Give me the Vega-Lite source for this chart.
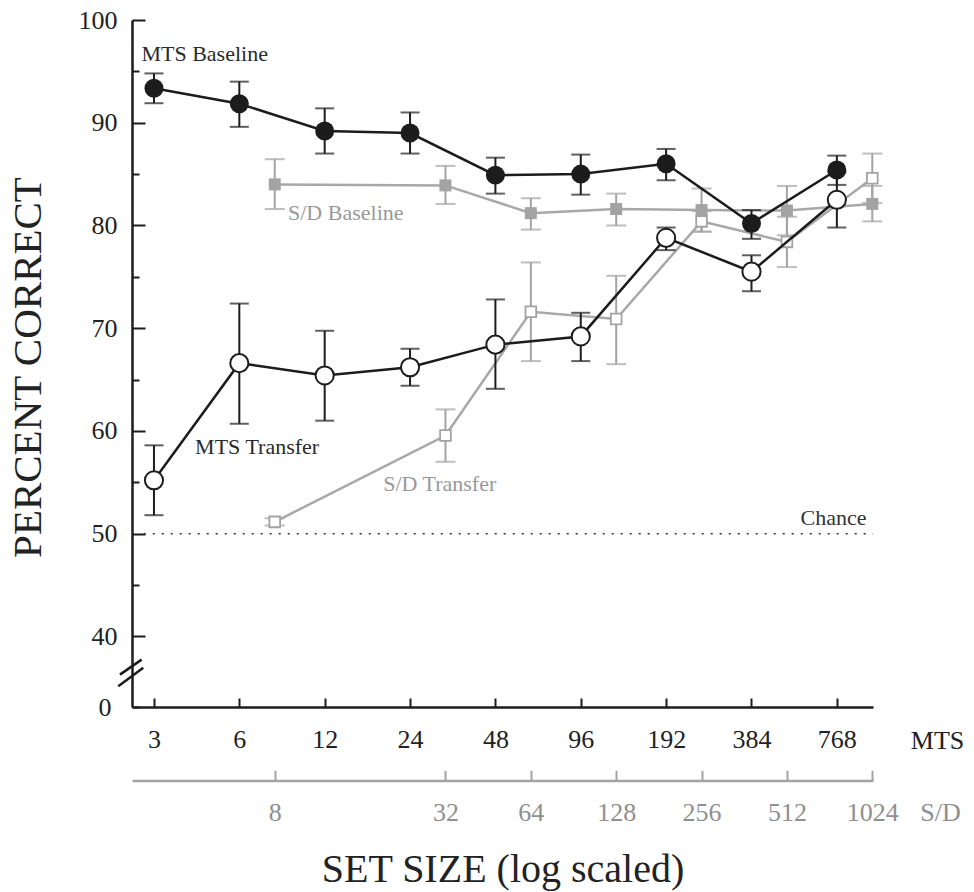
{
  "$schema": "https://vega.github.io/schema/vega-lite/v6.json",
  "width": 741,
  "height": 687,
  "autosize": "none",
  "padding": {"left": 132, "top": 20, "right": 101, "bottom": 185},
  "background": "white",
  "config": {"view": {"stroke": null}, "axis": {"grid": false}, "font": "Liberation Serif"},
  "datasets": {
    "d": [
      {"task": "MTS", "cond": "Baseline", "size": 3, "pct": 93.35, "lo": 91.9, "hi": 94.8},
      {"task": "MTS", "cond": "Baseline", "size": 6, "pct": 91.85, "lo": 89.6, "hi": 94.0},
      {"task": "MTS", "cond": "Baseline", "size": 12, "pct": 89.2, "lo": 87.0, "hi": 91.4},
      {"task": "MTS", "cond": "Baseline", "size": 24, "pct": 89.0, "lo": 87.0, "hi": 91.0},
      {"task": "MTS", "cond": "Baseline", "size": 48, "pct": 84.9, "lo": 83.1, "hi": 86.6},
      {"task": "MTS", "cond": "Baseline", "size": 96, "pct": 85.0, "lo": 83.0, "hi": 86.9},
      {"task": "MTS", "cond": "Baseline", "size": 192, "pct": 86.0, "lo": 84.4, "hi": 87.45},
      {"task": "MTS", "cond": "Baseline", "size": 384, "pct": 80.2, "lo": 78.7, "hi": 81.5},
      {"task": "MTS", "cond": "Baseline", "size": 768, "pct": 85.4, "lo": 83.95, "hi": 86.8},
      {"task": "MTS", "cond": "Transfer", "size": 3, "pct": 55.2, "lo": 51.8, "hi": 58.6},
      {"task": "MTS", "cond": "Transfer", "size": 6, "pct": 66.6, "lo": 60.7, "hi": 72.4},
      {"task": "MTS", "cond": "Transfer", "size": 12, "pct": 65.4, "lo": 61.0, "hi": 69.75},
      {"task": "MTS", "cond": "Transfer", "size": 24, "pct": 66.2, "lo": 64.4, "hi": 68.0},
      {"task": "MTS", "cond": "Transfer", "size": 48, "pct": 68.4, "lo": 64.1, "hi": 72.8},
      {"task": "MTS", "cond": "Transfer", "size": 96, "pct": 69.2, "lo": 66.8, "hi": 71.5},
      {"task": "MTS", "cond": "Transfer", "size": 192, "pct": 78.8, "lo": 77.6, "hi": 79.8},
      {"task": "MTS", "cond": "Transfer", "size": 384, "pct": 75.5, "lo": 73.6, "hi": 77.1},
      {"task": "MTS", "cond": "Transfer", "size": 768, "pct": 82.5, "lo": 79.8, "hi": 85.2},
      {"task": "S/D", "cond": "Baseline", "size": 8, "pct": 84.0, "lo": 81.6, "hi": 86.45},
      {"task": "S/D", "cond": "Baseline", "size": 32, "pct": 83.9, "lo": 82.1, "hi": 85.8},
      {"task": "S/D", "cond": "Baseline", "size": 64, "pct": 81.2, "lo": 79.6, "hi": 82.65},
      {"task": "S/D", "cond": "Baseline", "size": 128, "pct": 81.6, "lo": 80.0, "hi": 83.1},
      {"task": "S/D", "cond": "Baseline", "size": 256, "pct": 81.5, "lo": 79.4, "hi": 83.6},
      {"task": "S/D", "cond": "Baseline", "size": 512, "pct": 81.45, "lo": 79.05, "hi": 83.85},
      {"task": "S/D", "cond": "Baseline", "size": 1024, "pct": 82.1, "lo": 80.4, "hi": 83.85},
      {"task": "S/D", "cond": "Transfer", "size": 8, "pct": 51.15, "lo": 50.8, "hi": 51.5},
      {"task": "S/D", "cond": "Transfer", "size": 32, "pct": 59.55, "lo": 57.0, "hi": 62.1},
      {"task": "S/D", "cond": "Transfer", "size": 64, "pct": 71.6, "lo": 66.8, "hi": 76.4},
      {"task": "S/D", "cond": "Transfer", "size": 128, "pct": 70.9, "lo": 66.5, "hi": 75.1},
      {"task": "S/D", "cond": "Transfer", "size": 256, "pct": 80.4, "lo": 79.4, "hi": 81.4},
      {"task": "S/D", "cond": "Transfer", "size": 512, "pct": 78.4, "lo": 75.95, "hi": 80.85},
      {"task": "S/D", "cond": "Transfer", "size": 1024, "pct": 84.6, "lo": 82.2, "hi": 87.0}
    ],
    "ann": [
      {"label": "MTS Baseline", "task": "MTS", "size": 2.71, "pct": 96.66},
      {"label": "S/D Baseline", "task": "S/D", "size": 8.91, "pct": 81.25},
      {"label": "MTS Transfer", "task": "MTS", "size": 4.19, "pct": 58.4},
      {"label": "S/D Transfer", "task": "S/D", "size": 19.3, "pct": 54.8}
    ],
    "chance": [{"label": "Chance", "size": 977, "pct": 51.5}],
    "chanceline": [{"size": 2.76, "size2": 1030, "pct": 50}],
    "brk": [
      {"size": 2.276, "size2": 2.714, "pct": 36.28, "pct2": 37.74},
      {"size": 2.245, "size2": 2.751, "pct": 35.15, "pct2": 36.94}
    ]
  },
  "data": {"name": "d"},
  "resolve": {"axis": {"x": "independent", "y": "independent"}},
  "layer": [
    {
      "data": {"name": "chanceline"},
      "mark": {"type": "rule", "strokeDash": [2, 7], "color": "#333333", "strokeWidth": 1.5},
      "encoding": {
        "x": {"field": "size", "type": "quantitative", "scale": {"type": "log", "domain": [2.51, 1030], "nice": false}, "axis": null},
        "x2": {"field": "size2"},
        "y": {"field": "pct", "type": "quantitative", "scale": {"domain": [33.13, 100], "zero": false, "nice": false},
          "axis": {
            "orient": "left",
            "values": [33.13, 40, 45, 50, 55, 60, 65, 70, 75, 80, 85, 90, 95, 100],
            "labelExpr": "datum.value < 35 ? '0' : (datum.value % 10 === 0 ? '' + datum.value : '')",
            "tickSize": {"condition": {"test": "datum.value % 10 === 0", "value": -13}, "value": -7},
            "tickWidth": 2, "tickColor": "#1c1c1c",
            "domainColor": "#1c1c1c", "domainWidth": 2.5,
            "labelFont": "Liberation Serif", "labelFontSize": 26, "labelColor": "#222222",
            "labelPadding": 28, "labelOverlap": false, "labelFlush": false,
            "title": "PERCENT CORRECT", "titleFont": "Liberation Serif", "titleFontSize": 41, "titleFontWeight": "normal",
            "titleColor": "#222222", "titleX": -104, "titleY": 347, "titleBaseline": "middle", "titleAlign": "center", "titleAngle": 270
          }
        }
      }
    },
    {
      "transform": [{"filter": "datum.task === 'S/D'"}],
      "mark": {"type": "errorbar", "ticks": true, "size": 20, "thickness": 2, "color": "#a3a3a3"},
      "encoding": {
        "x": {"field": "size", "type": "quantitative", "scale": {"type": "log", "domain": [2.51, 1030], "nice": false}, "axis": null},
        "y": {"field": "lo", "type": "quantitative", "scale": {"domain": [33.13, 100], "zero": false, "nice": false}, "axis": null},
        "y2": {"field": "hi"},
        "detail": {"field": "cond"}
      }
    },
    {
      "transform": [{"filter": "datum.task === 'S/D'"}],
      "mark": {"type": "line", "color": "#a8a8a8", "strokeWidth": 2.5},
      "encoding": {
        "x": {"field": "size", "type": "quantitative", "scale": {"type": "log", "domain": [2.51, 1030], "nice": false}, "axis": null},
        "y": {"field": "pct", "type": "quantitative", "scale": {"domain": [33.13, 100], "zero": false, "nice": false}, "axis": null},
        "detail": {"field": "cond"}
      }
    },
    {
      "transform": [{"filter": "datum.task === 'S/D' && datum.cond === 'Baseline'"}],
      "mark": {"type": "point", "shape": "square", "filled": true, "color": "#a3a3a3", "size": 144, "opacity": 1},
      "encoding": {
        "x": {"field": "size", "type": "quantitative", "scale": {"type": "log", "domain": [2.51, 1030], "nice": false},
          "axis": {
            "orient": "bottom", "offset": 73.4,
            "values": [8, 32, 64, 128, 256, 512, 1024],
            "labelExpr": "'' + datum.value",
            "domainColor": "#a3a3a3", "domainWidth": 2.5,
            "tickColor": "#a3a3a3", "tickWidth": 2, "tickSize": -10,
            "labelFont": "Liberation Serif", "labelFontSize": 26, "labelColor": "#8f8f8f",
            "labelPadding": 42.3, "labelBaseline": "middle", "labelFlush": false, "labelOverlap": false,
            "title": "S/D", "titleFont": "Liberation Serif", "titleFontSize": 26, "titleFontWeight": "normal",
            "titleColor": "#8f8f8f", "titleX": 808, "titleY": 32, "titleBaseline": "middle", "titleAlign": "center"
          }
        },
        "y": {"field": "pct", "type": "quantitative", "scale": {"domain": [33.13, 100], "zero": false, "nice": false}, "axis": null}
      }
    },
    {
      "transform": [{"filter": "datum.task === 'S/D' && datum.cond === 'Transfer'"}],
      "mark": {"type": "point", "shape": "square", "filled": true, "fill": "#ffffff", "stroke": "#a3a3a3", "strokeWidth": 1.8, "size": 115, "opacity": 1},
      "encoding": {
        "x": {"field": "size", "type": "quantitative", "scale": {"type": "log", "domain": [2.51, 1030], "nice": false}, "axis": null},
        "y": {"field": "pct", "type": "quantitative", "scale": {"domain": [33.13, 100], "zero": false, "nice": false}, "axis": null}
      }
    },
    {
      "transform": [{"filter": "datum.task === 'MTS'"}],
      "mark": {"type": "errorbar", "ticks": true, "size": 19, "thickness": 2, "color": "#1c1c1c"},
      "encoding": {
        "x": {"field": "size", "type": "quantitative", "scale": {"type": "log", "domain": [2.51, 1030], "nice": false}, "axis": null},
        "y": {"field": "lo", "type": "quantitative", "scale": {"domain": [33.13, 100], "zero": false, "nice": false}, "axis": null},
        "y2": {"field": "hi"},
        "detail": {"field": "cond"}
      }
    },
    {
      "transform": [{"filter": "datum.task === 'MTS'"}],
      "mark": {"type": "line", "color": "#1c1c1c", "strokeWidth": 2.5},
      "encoding": {
        "x": {"field": "size", "type": "quantitative", "scale": {"type": "log", "domain": [2.51, 1030], "nice": false}, "axis": null},
        "y": {"field": "pct", "type": "quantitative", "scale": {"domain": [33.13, 100], "zero": false, "nice": false}, "axis": null},
        "detail": {"field": "cond"}
      }
    },
    {
      "transform": [{"filter": "datum.task === 'MTS' && datum.cond === 'Baseline'"}],
      "mark": {"type": "point", "shape": "circle", "filled": true, "color": "#1c1c1c", "size": 360, "opacity": 1},
      "encoding": {
        "x": {"field": "size", "type": "quantitative", "scale": {"type": "log", "domain": [2.51, 1030], "nice": false},
          "axis": {
            "orient": "bottom",
            "values": [3, 6, 12, 24, 48, 96, 192, 384, 768],
            "labelExpr": "'' + datum.value",
            "domainColor": "#1c1c1c", "domainWidth": 2.5,
            "tickColor": "#1c1c1c", "tickWidth": 2, "tickSize": -9,
            "labelFont": "Liberation Serif", "labelFontSize": 26, "labelColor": "#222222",
            "labelPadding": 41.7, "labelBaseline": "middle", "labelFlush": false, "labelOverlap": false,
            "title": "MTS", "titleFont": "Liberation Serif", "titleFontSize": 26, "titleFontWeight": "normal",
            "titleColor": "#222222", "titleX": 805, "titleY": 33, "titleBaseline": "middle", "titleAlign": "center"
          }
        },
        "y": {"field": "pct", "type": "quantitative", "scale": {"domain": [33.13, 100], "zero": false, "nice": false}, "axis": null}
      }
    },
    {
      "transform": [{"filter": "datum.task === 'MTS' && datum.cond === 'Transfer'"}],
      "mark": {"type": "point", "shape": "circle", "filled": true, "fill": "#ffffff", "stroke": "#1c1c1c", "strokeWidth": 2, "size": 330, "opacity": 1},
      "encoding": {
        "x": {"field": "size", "type": "quantitative", "scale": {"type": "log", "domain": [2.51, 1030], "nice": false}, "axis": null},
        "y": {"field": "pct", "type": "quantitative", "scale": {"domain": [33.13, 100], "zero": false, "nice": false}, "axis": null}
      }
    },
    {
      "data": {"name": "brk"},
      "mark": {"type": "rule", "color": "#1c1c1c", "strokeWidth": 2.5},
      "encoding": {
        "x": {"field": "size", "type": "quantitative", "scale": {"type": "log", "domain": [2.51, 1030], "nice": false}, "axis": null},
        "x2": {"field": "size2"},
        "y": {"field": "pct", "type": "quantitative", "scale": {"domain": [33.13, 100], "zero": false, "nice": false}, "axis": null},
        "y2": {"field": "pct2"}
      }
    },
    {
      "data": {"name": "ann"},
      "mark": {"type": "text", "align": "left", "baseline": "middle", "font": "Liberation Serif", "fontSize": 22},
      "encoding": {
        "x": {"field": "size", "type": "quantitative", "scale": {"type": "log", "domain": [2.51, 1030], "nice": false},
          "axis": {
            "orient": "bottom", "offset": 73.4, "domain": false, "ticks": false, "labels": false,
            "title": "SET SIZE (log scaled)", "titleFont": "Liberation Serif", "titleFontSize": 40, "titleFontWeight": "normal",
            "titleColor": "#222222", "titleX": 370.5, "titleY": 101, "titleBaseline": "alphabetic", "titleAlign": "center"
          }
        },
        "y": {"field": "pct", "type": "quantitative", "scale": {"domain": [33.13, 100], "zero": false, "nice": false}, "axis": null},
        "text": {"field": "label"},
        "color": {"field": "task", "type": "nominal", "scale": {"domain": ["MTS", "S/D"], "range": ["#2a2a2a", "#999999"]}, "legend": null}
      }
    },
    {
      "data": {"name": "chance"},
      "mark": {"type": "text", "align": "right", "baseline": "middle", "font": "Liberation Serif", "fontSize": 22, "color": "#333333"},
      "encoding": {
        "x": {"field": "size", "type": "quantitative", "scale": {"type": "log", "domain": [2.51, 1030], "nice": false}, "axis": null},
        "y": {"field": "pct", "type": "quantitative", "scale": {"domain": [33.13, 100], "zero": false, "nice": false}, "axis": null},
        "text": {"field": "label"}
      }
    }
  ]
}
